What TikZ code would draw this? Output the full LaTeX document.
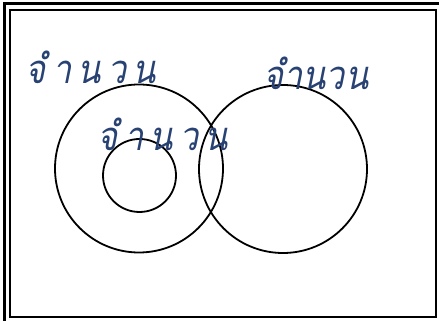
\documentclass[tikz,border=0pt]{standalone}
\usepackage{fontspec}
\newfontfamily\thaifont[Script=Thai,FakeSlant=0.2,FakeStretch=0.85]{Loma}
\newfontfamily\thaiwide[Script=Thai,FakeSlant=0.2,FakeStretch=0.85,LetterSpace=16]{Loma}
\usepackage{xcolor}
\usepackage{tikz}
\definecolor{setblue}{RGB}{40,66,115}
\tikzset{setname/.style={text=setblue,inner sep=0pt,anchor=base,font=\fontsize{40}{44}\thaifont},
  widename/.style={setname,font=\fontsize{40}{44}\thaiwide}}

\begin{document}
\begin{tikzpicture}[x=1pt,y=1pt,line width=1.8pt]
  \useasboundingbox (0,0) rectangle (439,321);
  % page frame
  \draw[line width=3pt] (3,317) -- (439,317);
  \draw[line width=3pt] (4,317) -- (4,0);
  \draw[line width=2.8pt] (10,4) rectangle (436,311);
  % sets
  \coordinate (bigA) at (139,152.5);
  \coordinate (smallA) at (139.5,145.5);
  \coordinate (bigB) at (283,152);
  \draw (bigA) circle (84);
  \draw (smallA) circle (36.5);
  \draw (bigB) circle (84);
  % names
  \node[widename] (nameA) at (91,237) {จำนวน};
  \node[widename] (nameC) at (163,170) {จำนวน};
  \node[setname] (nameB) at (316,231) {จำนวน};
\end{tikzpicture}
\end{document}
